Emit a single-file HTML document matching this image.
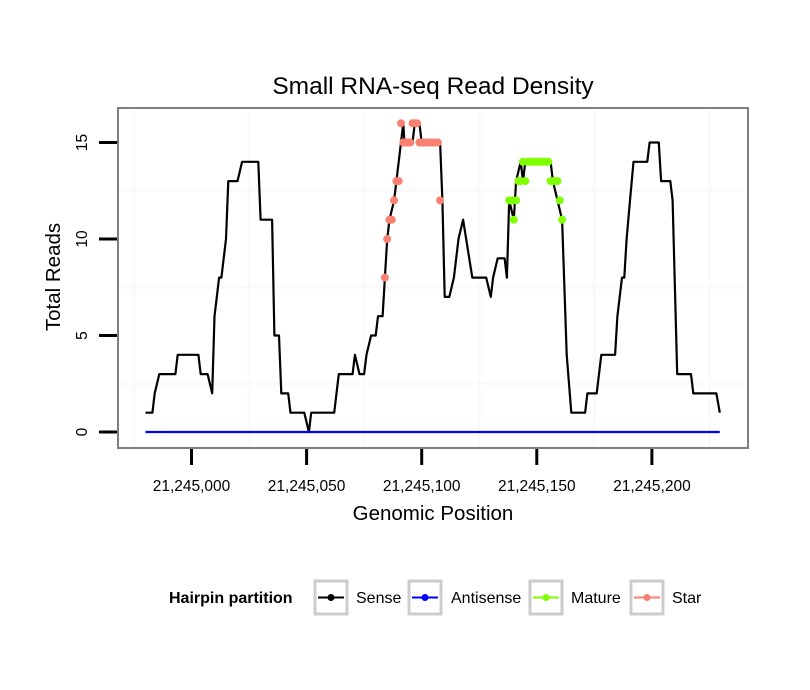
<!DOCTYPE html>
<html><head><meta charset="utf-8"><style>
body{margin:0;background:#fff;}
svg{display:block;font-family:"Liberation Sans",sans-serif;}
</style></head><body>
<svg id="chart" width="810" height="690" viewBox="0 0 810 690">
<rect x="0" y="0" width="810" height="690" fill="#fff"/>
<text x="433" y="94" font-size="24.5" text-anchor="middle">Small RNA-seq Read Density</text>
<g id="grid"></g>
<g id="series"></g>
<rect x="118" y="108" width="630" height="340" fill="none" stroke="#7f7f7f" stroke-width="2"/>
<g id="axes"></g>
<text x="433" y="520" font-size="20.5" text-anchor="middle">Genomic Position</text>
<text transform="translate(60,277) rotate(-90)" font-size="20.5" text-anchor="middle">Total Reads</text>
<g>
<text x="169" y="603" font-size="16" font-weight="bold">Hairpin partition</text>
<g><rect x="315" y="581" width="32" height="33" fill="#fff" stroke="#ccc" stroke-width="3"/><line x1="318" y1="597.5" x2="344" y2="597.5" stroke="#000" stroke-width="2"/><circle cx="331" cy="597.5" r="3.5" fill="#000"/><text x="356" y="603" font-size="16">Sense</text></g>
<g><rect x="409" y="581" width="32" height="33" fill="#fff" stroke="#ccc" stroke-width="3"/><line x1="412" y1="597.5" x2="438" y2="597.5" stroke="#0000ff" stroke-width="2"/><circle cx="425" cy="597.5" r="3.5" fill="#0000ff"/><text x="451" y="603" font-size="16">Antisense</text></g>
<g><rect x="530" y="581" width="32" height="33" fill="#fff" stroke="#ccc" stroke-width="3"/><line x1="533" y1="597.5" x2="559" y2="597.5" stroke="#7fff00" stroke-width="2"/><circle cx="546" cy="597.5" r="3.5" fill="#7fff00"/><text x="571" y="603" font-size="16">Mature</text></g>
<g><rect x="631" y="581" width="32" height="33" fill="#fff" stroke="#ccc" stroke-width="3"/><line x1="634" y1="597.5" x2="660" y2="597.5" stroke="#fa8072" stroke-width="2"/><circle cx="647" cy="597.5" r="3.5" fill="#fa8072"/><text x="672" y="603" font-size="16">Star</text></g>
</g>
</svg>
<script>
// Data (positions as offset from 21,245,000)
const sensePos = [-20,-17,-16,-14,-7,-6,3,4,7,9,10,12,13,15,16,20,22,29,30,35,36,38,39,42,43,49,51,52,56,62,64,70,71,73,75,76,78,80,81,83,84,85,86,88,89,92,92.5,96,97,99,100,108,109,110,112,114,116,118,122,128,130,131,133,136,137,138,140,141,143,144,145,146,156,157,159,161,163,165,171,172,176,178,184,185,187,188,189,190.5,192,198,199,203,204,208,209,211,217,218,228,229.5];
const senseVal = [1,1,2,3,3,4,4,3,3,2,6,8,8,10,13,13,14,14,11,11,5,5,2,2,1,1,0,1,1,1,3,3,4,3,3,4,5,5,6,6,8,10,11,12,13,16,15,15,16,16,15,15,12,7,7,8,10,11,8,8,7,8,9,9,8,12,11,13,14,13,14,14,14,13,12,11,4,1,1,2,2,4,4,6,8,8,10,12,14,14,15,15,13,13,12,3,3,2,2,1];
const antiPos = [-20,229.5];
const antiVal = [0,0];
const starPos = [84,85,86,87,88,89,90,91,92,93,94,95,96,97,98,99,100,101,102,103,104,105,106,107,108];
const starVal = [8,10,11,11,12,13,13,16,15,15,15,15,16,16,16,15,15,15,15,15,15,15,15,15,12];
const maturePos = [138,139,140,141,142,143,144,145,146,147,148,149,150,151,152,153,154,155,156,157,158,159,160,161];
const matureVal = [12,12,11,12,13,13,14,13,14,14,14,14,14,14,14,14,14,14,13,13,13,13,12,11];
const xTicks = [0,50,100,150,200];
const xTickLabels = ["21,245,000","21,245,050","21,245,100","21,245,150","21,245,200"];
const yTicks = [0,5,10,15];
const yTickLabels = ["0","5","10","15"];
const xGrid = [-25,25,75,125,175,225];
const yGrid = [2.5,7.5,12.5];

const NS = "http://www.w3.org/2000/svg";
function X(p){return 191.5 + p*2.302;}
function Y(v){return 432 - v*19.3;}
function mk(tag, attrs, parent){const e=document.createElementNS(NS,tag);for(const k in attrs)e.setAttribute(k,attrs[k]);parent.appendChild(e);return e;}
const grid=document.getElementById('grid'), series=document.getElementById('series'), axes=document.getElementById('axes');
xGrid.forEach(g=>{const l=mk('line',{x1:X(g),x2:X(g),y1:109,y2:447,stroke:'#fafafa','stroke-width':3},grid);

});
yGrid.forEach(g=>{const l=mk('line',{x1:119,x2:747,y1:Y(g),y2:Y(g),stroke:'#fafafa','stroke-width':3},grid);

});
function path(ps,vs,color,name){const d=ps.map((p,i)=>(i?'L':'M')+X(p).toFixed(1)+','+Y(vs[i]).toFixed(1)).join('');
const e=mk('path',{d:d,fill:'none',stroke:color,'stroke-width':2.2,'stroke-linejoin':'round'},series);

}
path(sensePos,senseVal,'#000','sense-line');
path(antiPos,antiVal,'#0000ff','antisense-line');
function pts(ps,vs,color,name){ps.forEach((p,i)=>{const c=mk('circle',{cx:X(p),cy:Y(vs[i]),r:4,fill:color},series);

});}
pts(starPos,starVal,'#fa8072','star-point');
pts(maturePos,matureVal,'#7fff00','mature-point');
xTicks.forEach((t,i)=>{const l=mk('line',{x1:X(t),x2:X(t),y1:449,y2:465,stroke:'#000','stroke-width':3},axes);


const tx=mk('text',{x:X(t),y:491,'font-size':15.5,'text-anchor':'middle'},axes);tx.textContent=xTickLabels[i];

});
yTicks.forEach((t,i)=>{const l=mk('line',{x1:99,x2:117,y1:Y(t),y2:Y(t),stroke:'#000','stroke-width':3},axes);


const tx=mk('text',{transform:'translate(87,'+Y(t)+') rotate(-90)','font-size':15.5,'text-anchor':'middle'},axes);tx.textContent=yTickLabels[i];

});
</script>
</body></html>
